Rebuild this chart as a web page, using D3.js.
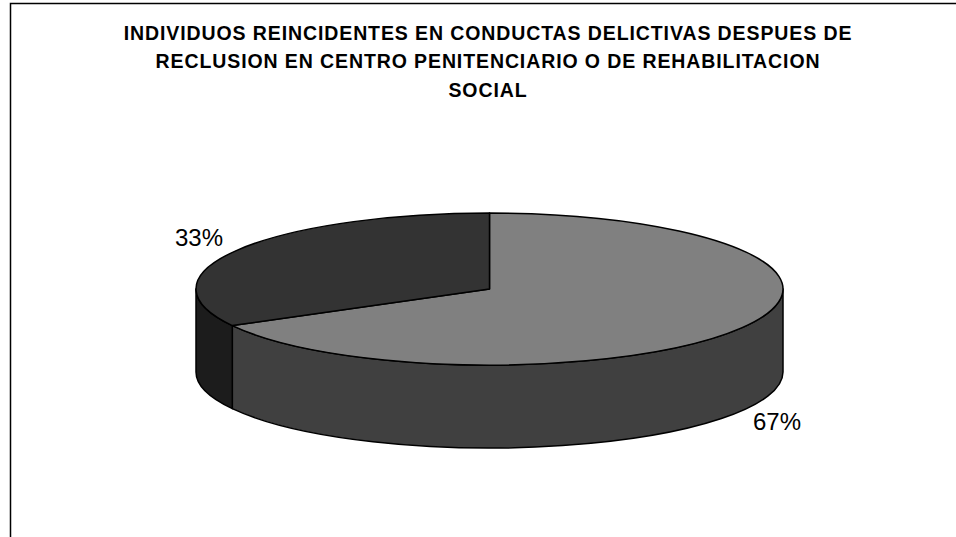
<!DOCTYPE html>
<html>
<head>
<meta charset="utf-8">
<script src="https://cdn.jsdelivr.net/npm/d3@7"></script>
<style>
  html, body { margin: 0; padding: 0; background: #fff; }
  svg { display: block; }
  text { font-family: Arial, "Liberation Sans", sans-serif; }
</style>
</head>
<body>
<svg id="chart" width="956" height="537"></svg>
<script>
// Chart data
const categories = ["Reincidentes", "No reincidentes"];
const values = [67, 33];
const valueLabels = ["67%", "33%"];
const titleLines = [
  "INDIVIDUOS REINCIDENTES EN CONDUCTAS DELICTIVAS DESPUES DE",
  "RECLUSION EN CENTRO PENITENCIARIO O DE REHABILITACION",
  "SOCIAL"
];

const topColors = ["#808080", "#333333"];
const sideColors = ["#404040", "#1c1c1c"];

const W = 956, H = 537;
const svg = d3.select("#chart");

// Frame (left and top edges of the chart area)
svg.append("path")
  .attr("d", `M10.5,${H} L10.5,3.5 L${W},3.5`)
  .attr("fill", "none")
  .attr("stroke", "#000")
  .attr("stroke-width", 1.5);

// Title
svg.append("g").selectAll("text")
  .data(titleLines)
  .join("text")
  .attr("x", 488)
  .attr("y", (d, i) => 39.5 + i * 28.5)
  .attr("text-anchor", "middle")
  .attr("font-weight", "bold")
  .attr("font-size", 19.5)
  .attr("letter-spacing", 0.9)
  .text(d => d);

// 3D pie geometry
const cx = 489.5, cy = 289, rx = 293.5, ry = 76, depth = 83;
const pie = d3.pie().value(d => d).sort(null);
const arcs = pie(values);

// Parametric angle (clockwise from 12 o'clock) -> screen point on the ellipse
const xS = d3.scaleLinear().domain([-1, 1]).range([cx - rx, cx + rx]);
const yS = d3.scaleLinear().domain([-1, 1]).range([cy - ry, cy + ry]);
const pt = (a, dy = 0) => [xS(Math.sin(a)), yS(-Math.cos(a)) + dy];

const g = svg.append("g")
  .attr("stroke", "#000")
  .attr("stroke-width", 1.5)
  .attr("stroke-linejoin", "round");

// Side walls: only the front half (from 3 o'clock to 9 o'clock) is visible
const frontStart = Math.PI / 2, frontEnd = 3 * Math.PI / 2;
arcs.forEach((a, i) => {
  const a0 = Math.max(a.startAngle, frontStart);
  const a1 = Math.min(a.endAngle, frontEnd);
  if (a1 <= a0) return;
  const p0 = pt(a0), p1 = pt(a1), q1 = pt(a1, depth), q0 = pt(a0, depth);
  const d = `M${p0} A${rx},${ry} 0 0 1 ${p1} L${q1} A${rx},${ry} 0 0 0 ${q0} Z`;
  g.append("path").attr("d", d).attr("fill", sideColors[i]);
});

// Top faces
arcs.forEach((a, i) => {
  const p0 = pt(a.startAngle), p1 = pt(a.endAngle);
  const large = (a.endAngle - a.startAngle) > Math.PI ? 1 : 0;
  const d = `M${cx},${cy} L${p0} A${rx},${ry} 0 ${large} 1 ${p1} Z`;
  g.append("path").attr("d", d).attr("fill", topColors[i]);
});

// Value labels
const labelPos = [[777, 430], [199, 246]];
svg.append("g").selectAll("text")
  .data(valueLabels)
  .join("text")
  .attr("x", (d, i) => labelPos[i][0])
  .attr("y", (d, i) => labelPos[i][1])
  .attr("text-anchor", "middle")
  .attr("font-size", 24)
  .attr("fill", "#000")
  .text(d => d);
</script>
</body>
</html>
